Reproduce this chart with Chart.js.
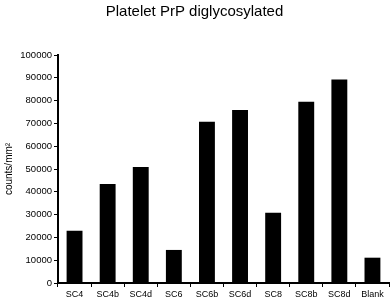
<!DOCTYPE html>
<html>
<head>
<meta charset="utf-8">
<script src="https://cdn.jsdelivr.net/npm/chart.js@4/dist/chart.umd.min.js"></script>
<style>
  html, body { margin: 0; padding: 0; background: #fff; }
  #wrap { width: 392px; height: 301px; }
</style>
</head>
<body>
<div id="wrap"><canvas id="plateletChart"></canvas></div>
<script>
const categories = ['SC4', 'SC4b', 'SC4d', 'SC6', 'SC6b', 'SC6d', 'SC8', 'SC8b', 'SC8d', 'Blank'];
const counts = [22900, 43400, 50900, 14500, 70700, 75900, 30800, 79500, 89300, 11100];
const yTicks = [0, 10000, 20000, 30000, 40000, 50000, 60000, 70000, 80000, 90000, 100000];

const font = 'Liberation Sans, Arial, sans-serif';

const ctx = document.getElementById('plateletChart').getContext('2d');
new Chart(ctx, {
    type: 'bar',
    data: {
        labels: categories,
        datasets: [{
            data: counts,
            backgroundColor: '#000',
            borderWidth: 0,
            barPercentage: 0.96,
            categoryPercentage: 0.5
        }]
    },
    options: {
        responsive: true,
        maintainAspectRatio: false,
        animation: false,
        layout: { padding: { right: 3, left: 0, top: 0, bottom: 0 } },
        plugins: {
            legend: { display: false },
            tooltip: { enabled: false },
            title: {
                display: true,
                text: 'Platelet PrP diglycosylated',
                color: '#000',
                font: { family: font, size: 15, weight: 'normal' },
                padding: { top: 3, bottom: 34 }
            }
        },
        scales: {
            x: {
                grid: { offset: true, drawOnChartArea: false, drawTicks: true, tickLength: 4, color: '#000', lineWidth: 1 },
                border: { color: '#000', width: 2 },
                ticks: { color: '#000', font: { family: font, size: 9 }, padding: 2, maxRotation: 0, autoSkip: false },
                afterFit: s => { s.height = 18; }
            },
            y: {
                min: 0,
                max: 100000,
                afterBuildTicks: s => { s.ticks = yTicks.map(v => ({ value: v })); },
                grid: { drawOnChartArea: false, drawTicks: true, tickLength: 4, color: '#000', lineWidth: 1 },
                border: { color: '#000', width: 2 },
                ticks: { color: '#000', font: { family: font, size: 9.5 }, padding: 2, callback: v => String(v) },
                title: {
                    display: true,
                    text: 'counts/mm²',
                    color: '#000',
                    font: { family: font, size: 10 },
                    padding: { top: 3, bottom: 0 }
                },
                afterFit: s => { s.width = 58; }
            }
        }
    }
});
</script>
</body>
</html>
